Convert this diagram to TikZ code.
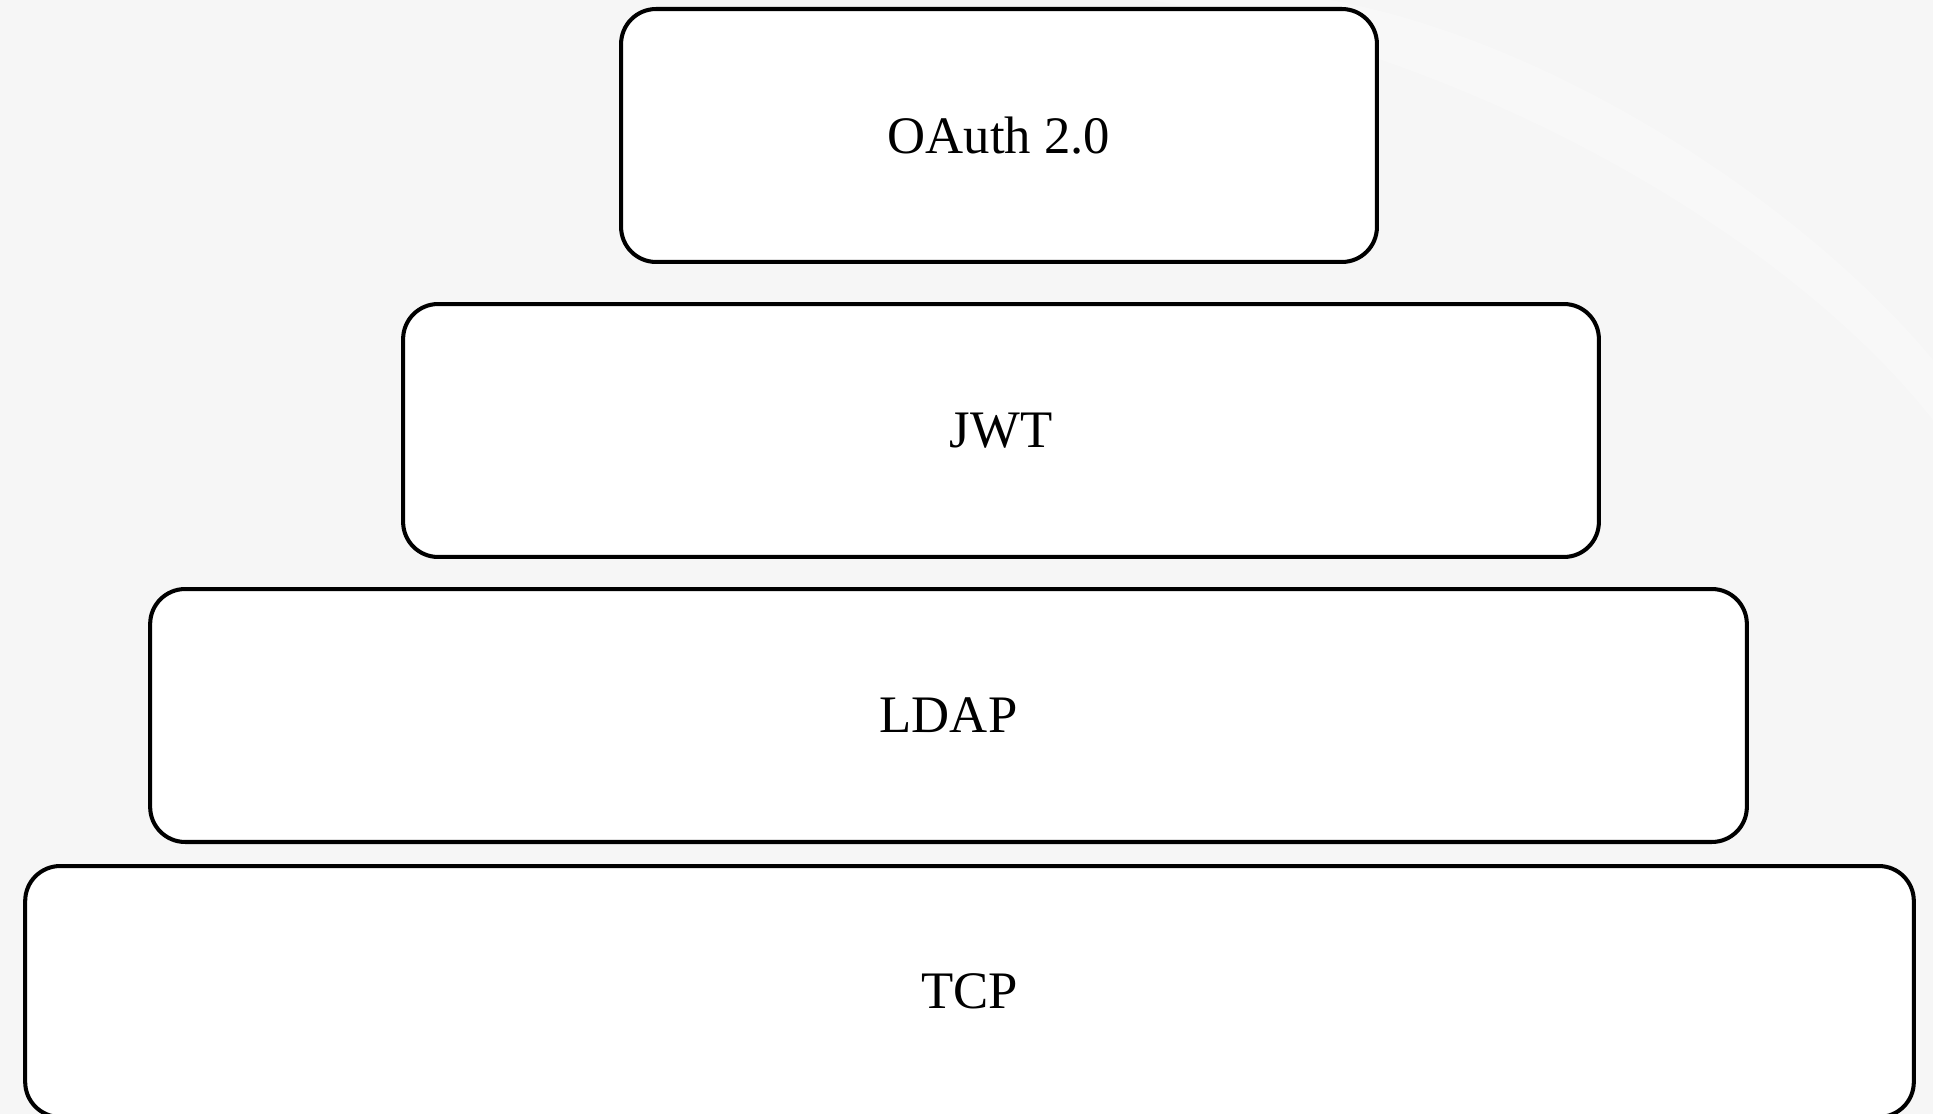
\documentclass[tikz,border=0pt]{standalone}
\usepackage{fontspec}
\setmainfont{Liberation Serif}
\usetikzlibrary{positioning}

\begin{document}
\begin{tikzpicture}[x=0.02cm, y=-0.02cm,
  layerbox/.style={draw=black, fill=white, line width=2.3pt, rounded corners=0.7cm,
    inner sep=0pt, font=\fontsize{30}{36}\selectfont}]

% page and background
\useasboundingbox (0,0) rectangle (1933,1114);
\fill[gray!7] (0,0) rectangle (1933,1114);
\fill[white, opacity=0.25] (1150,0) .. controls (1500,60) and (1800,250) .. (1933,420)
  -- (1933,360) .. controls (1800,200) and (1550,40) .. (1330,0) -- cycle;

% stacked layers, top to bottom
\node[layerbox, minimum width=15.12cm, minimum height=5.06cm] (oauth) at (999,135.5) {OAuth 2.0};
\node[layerbox, minimum width=23.92cm, minimum height=5.06cm] (jwt) at (1001,430.5) {JWT};
\node[layerbox, minimum width=31.94cm, minimum height=5.06cm] (ldap) at (948.5,715.5) {LDAP};
\node[layerbox, minimum width=37.78cm, minimum height=5.02cm] (tcp) at (969.5,991.5) {TCP};

\end{tikzpicture}
\end{document}
